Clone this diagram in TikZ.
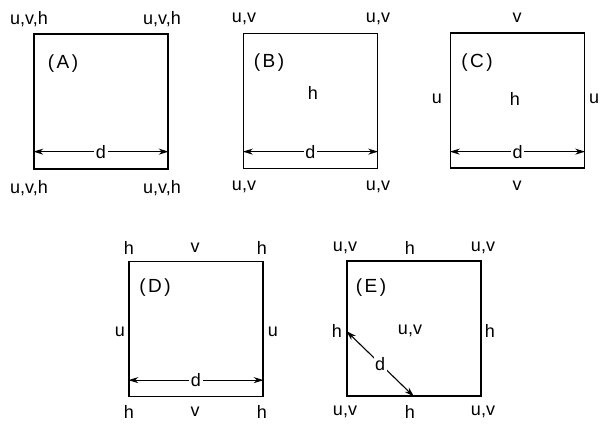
\documentclass[tikz,border=0pt]{standalone}
\usepackage{fontspec}
\setmainfont{Liberation Sans}
\usetikzlibrary{arrows.meta, positioning, calc}

\newcommand{\tagtext}[1]{(\kern2.5pt#1\kern2.5pt)}

\begin{document}
\begin{tikzpicture}[
  x=1pt, y=-1pt,
  cell/.style={rectangle, draw=black, line width=1.3pt,
    minimum width=134pt, minimum height=135pt, inner sep=0pt},
  lbl/.style={font=\fontsize{18}{18}\selectfont, inner sep=1pt},
  tag/.style={font=\fontsize{19}{19}\selectfont, inner sep=0pt},
  dim/.style={{Stealth[length=10pt,width=6pt]}-{Stealth[length=10pt,width=6pt]},
    line width=1.1pt},
  dlbl/.style={lbl, fill=white, inner sep=1.5pt}
]
  \useasboundingbox (0,0) rectangle (600,427);

  % (A)
  \node[cell] (A) at (101,101.5) {};
  \node[tag] (A-tag) at (63,64) {\tagtext{A}};
  \node[lbl] (A-tl) at (29,19) {u,v,h};
  \node[lbl] (A-tr) at (162,19) {u,v,h};
  \node[lbl] (A-bl) at (29,188) {u,v,h};
  \node[lbl] (A-br) at (162,188) {u,v,h};
  \draw[dim] ([yshift=18pt]A.south west) -- node[dlbl] {d} ([yshift=18pt]A.south east);

  % (B)
  \node[cell] (B) at (310.5,101) {};
  \node[tag] (B-tag) at (269,63) {\tagtext{B}};
  \node[lbl] (B-tl) at (244,19) {u,v};
  \node[lbl] (B-tr) at (378,19) {u,v};
  \node[lbl] (B-mid) at (313,93) {h};
  \node[lbl] (B-bl) at (244,187) {u,v};
  \node[lbl] (B-br) at (378,187) {u,v};
  \draw[dim] ([yshift=17.5pt]B.south west) -- node[dlbl] {d} ([yshift=17.5pt]B.south east);

  % (C)
  \node[cell] (C) at (517.5,100.5) {};
  \node[tag] (C-tag) at (477,63) {\tagtext{C}};
  \node[lbl] (C-t) at (517,18) {v};
  \node[lbl] (C-l) at (437,99) {u};
  \node[lbl] (C-mid) at (515,99) {h};
  \node[lbl] (C-r) at (594,99) {u};
  \node[lbl] (C-b) at (517,186) {v};
  \draw[dim] ([yshift=17pt]C.south west) -- node[dlbl] {d} ([yshift=17pt]C.south east);

  % (D)
  \node[cell] (D) at (196,329) {};
  \node[tag] (D-tag) at (155,288) {\tagtext{D}};
  \node[lbl] (D-tl) at (129,248) {h};
  \node[lbl] (D-tm) at (195,248) {v};
  \node[lbl] (D-tr) at (262,248) {h};
  \node[lbl] (D-l) at (120,332) {u};
  \node[lbl] (D-r) at (273,332) {u};
  \node[lbl] (D-bl) at (129,412) {h};
  \node[lbl] (D-bm) at (195,412) {v};
  \node[lbl] (D-br) at (262,412) {h};
  \draw[dim] ([yshift=17pt]D.south west) -- node[dlbl] {d} ([yshift=17pt]D.south east);

  % (E)
  \node[cell] (E) at (414,328.5) {};
  \node[tag] (E-tag) at (371,288) {\tagtext{E}};
  \node[lbl] (E-tl) at (345,248) {u,v};
  \node[lbl] (E-tm) at (410,248) {h};
  \node[lbl] (E-tr) at (483,248) {u,v};
  \node[lbl] (E-ml) at (337,331) {h};
  \node[lbl] (E-mid) at (410,331) {u,v};
  \node[lbl] (E-mr) at (490,331) {h};
  \node[lbl] (E-bl) at (345,412) {u,v};
  \node[lbl] (E-bm) at (410,412) {h};
  \node[lbl] (E-br) at (483,412) {u,v};
  \draw[dim] (E.west |- E-ml) -- node[dlbl] {d} (E.south);
\end{tikzpicture}
\end{document}
